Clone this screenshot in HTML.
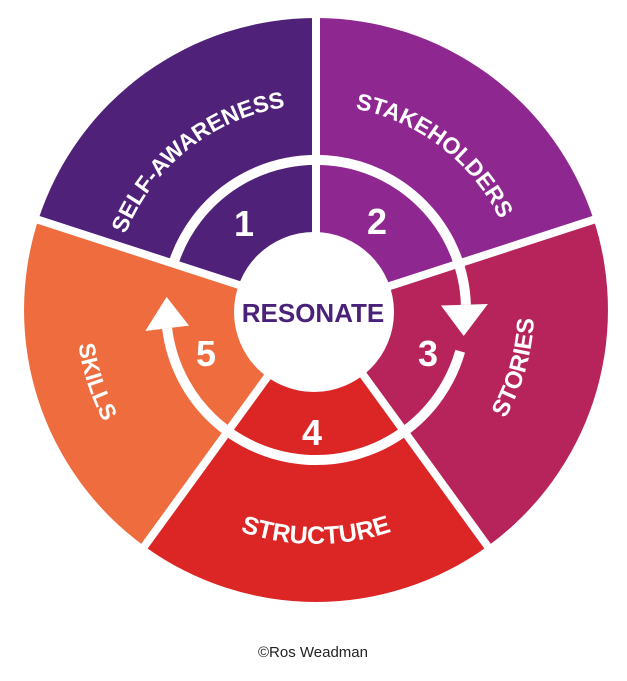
<!DOCTYPE html>
<html><head><meta charset="utf-8"><style>
html,body{margin:0;padding:0;background:#fff;}
svg{display:block;}
</style></head><body>
<svg width="627" height="681" viewBox="0 0 627 681" xmlns="http://www.w3.org/2000/svg">
<defs>
<path id="top" d="M123.4,380.1 A205,205 0 1 1 508.6,380.1"/>
<path id="bStruct" d="M96.1,230 A234,234 0 1 0 535.9,230"/>
<path id="bStories" d="M111.1,235.4 A218,218 0 1 0 520.9,235.4"/>
<path id="bSkills" d="M90.5,227.9 A240,240 0 1 0 541.5,227.9"/>
</defs>
<g>
<path d="M316,310 L38.3,219.8 A292,292 0 0 1 316,18 Z" fill="#4f2179"/>
<path d="M316,310 L316,18 A292,292 0 0 1 593.7,219.8 Z" fill="#8f2790"/>
<path d="M316,310 L593.7,219.8 A292,292 0 0 1 487.6,546.2 Z" fill="#b7245b"/>
<path d="M316,310 L487.6,546.2 A292,292 0 0 1 144.4,546.2 Z" fill="#dc2626"/>
<path d="M316,310 L144.4,546.2 A292,292 0 0 1 38.3,219.8 Z" fill="#ee6c3e"/>
</g>
<g stroke="#fff" stroke-width="8">
<line x1="316" y1="310" x2="316" y2="10"/>
<line x1="316" y1="310" x2="600" y2="217.7"/>
<line x1="316" y1="310" x2="492.3" y2="552.7"/>
<line x1="316" y1="310" x2="139.7" y2="552.7"/>
<line x1="316" y1="310" x2="31" y2="217.4"/>
</g>
<circle cx="314" cy="312" r="80" fill="#fff"/>
<g fill="none" stroke="#fff" stroke-width="10">
<path d="M173.3,263.6 A150,150 0 0 1 465.9,304.8"/>
<path d="M460.2,351.3 A150,150 0 0 1 167.1,328.3"/>
</g>
<polygon points="441,305.5 487.9,304 463.7,336" fill="#fff"/>
<polygon points="189,325.6 145.3,331 166.6,296.9" fill="#fff"/>
<g font-family="Liberation Sans, sans-serif" font-weight="bold" fill="#fff">
<text text-anchor="middle" font-size="23"><textPath href="#top" startOffset="32.5%">SELF-AWARENESS</textPath></text>
<text text-anchor="middle" font-size="23"><textPath href="#top" startOffset="67%">STAKEHOLDERS</textPath></text>
<text text-anchor="middle" font-size="25"><textPath href="#bStruct" startOffset="50%">STRUCTURE</textPath></text>
<text text-anchor="middle" font-size="24"><textPath href="#bStories" startOffset="83.6%">STORIES</textPath></text>
<text text-anchor="middle" font-size="23"><textPath href="#bSkills" startOffset="17.3%">SKILLS</textPath></text>
</g>
<g font-family="Liberation Sans, sans-serif" font-weight="bold" fill="#fff" font-size="36" text-anchor="middle">
<text x="244" y="236">1</text>
<text x="377" y="234">2</text>
<text x="428" y="366">3</text>
<text x="312" y="445">4</text>
<text x="206" y="366">5</text>
</g>
<text x="313" y="322" text-anchor="middle" font-family="Liberation Sans, sans-serif" font-weight="bold" font-size="26" fill="#4a2279">RESONATE</text>
<text x="313" y="657" text-anchor="middle" font-family="Liberation Sans, sans-serif" font-size="15" fill="#222">©Ros Weadman</text>
</svg>
</body></html>
